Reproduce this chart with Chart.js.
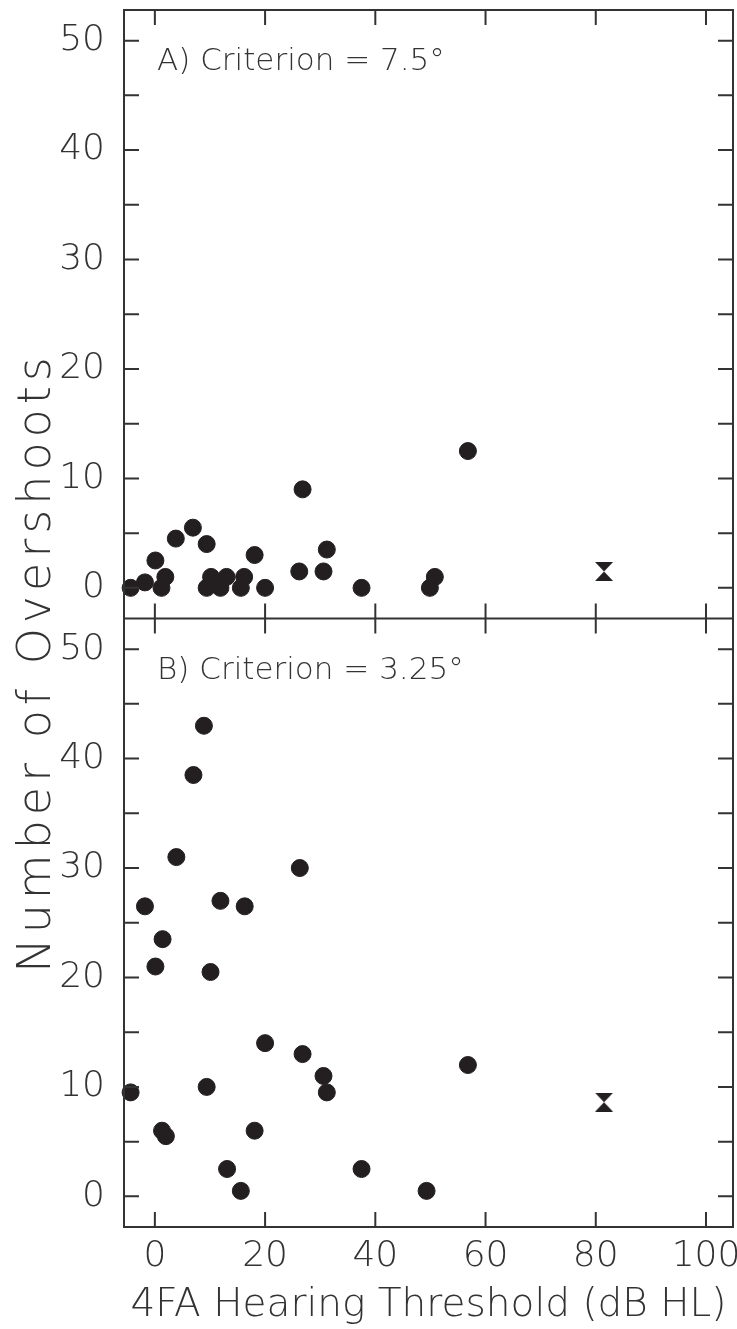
<!DOCTYPE html>
<html>
<head>
<meta charset="utf-8">
<script src="https://cdn.jsdelivr.net/npm/chart.js@4/dist/chart.umd.min.js"></script>
<style>
  html, body { margin: 0; padding: 0; background: #fff; }
  #wrap { width: 737px; height: 1329px; }
</style>
</head>
<body>
<div id="wrap"><canvas id="chart"></canvas></div>
<script>
// tick values
const xTicks = [0, 20, 40, 60, 80, 100];
const yTicks = [0, 5, 10, 15, 20, 25, 30, 35, 40, 45, 50];
const panelLabels = ['A) Criterion = 7.5°', 'B) Criterion = 3.25°'];
const yTitle = 'Number of Overshoots';
const xTitle = '4FA Hearing Threshold (dB HL)';

// panel A: criterion 7.5 deg
const thresholdA = [-4.4, -1.8, 0.1, 1.2, 1.9, 3.8, 6.9, 9.4, 9.4, 10.2, 11.9, 13.0, 15.6, 16.2, 18.1, 20.0, 26.2, 26.8, 30.6, 31.2, 37.5, 49.9, 50.8, 56.8];
const overshootsA = [0, 0.5, 2.5, 0, 1, 4.5, 5.5, 4, 0, 1, 0, 1, 0, 1, 3, 0, 1.5, 9, 1.5, 3.5, 0, 0, 1, 12.5];

// panel B: criterion 3.25 deg
const thresholdB = [-4.4, -1.8, 0.1, 1.4, 1.3, 2.0, 3.9, 7.0, 8.9, 9.4, 10.1, 11.9, 13.1, 15.6, 16.3, 18.1, 20.0, 26.3, 26.8, 30.6, 31.2, 37.5, 49.3, 56.8];
const overshootsB = [9.5, 26.5, 21, 23.5, 6, 5.5, 31, 38.5, 43, 10, 20.5, 27, 2.5, 0.5, 26.5, 6, 14, 30, 13, 11, 9.5, 2.5, 0.5, 12];

// group markers
const meanX = 81.5;
const meanA = 1.5;
const meanB = 8.6;

const ink = '#231f20';
const textColor = '#333';
const family = "'DejaVu Sans', sans-serif";

const toPoints = (xs, ys) => xs.map((x, i) => ({ x, y: ys[i] }));

// hourglass marker
const hourglass = document.createElement('canvas');
hourglass.width = 20;
hourglass.height = 19;
{
  const c = hourglass.getContext('2d');
  c.fillStyle = ink;
  c.beginPath();
  c.moveTo(1, 0); c.lineTo(19, 0); c.lineTo(10, 9.5);
  c.lineTo(19, 19); c.lineTo(1, 19); c.lineTo(10, 9.5);
  c.closePath();
  c.fill();
}

const tickLen = 15;
const frame = {
  id: 'frame',
  afterDatasetsDraw(chart) {
    const { ctx, chartArea: a, scales } = chart;
    ctx.save();
    ctx.strokeStyle = textColor;
    ctx.lineWidth = 2;
    ctx.strokeRect(a.left, a.top, a.right - a.left, a.bottom - a.top);
    ctx.beginPath();
    ctx.moveTo(a.left, scales.yA.bottom);
    ctx.lineTo(a.right, scales.yA.bottom);
    ctx.stroke();

    ctx.beginPath();
    ['yA', 'yB'].forEach((id) => {
      const s = scales[id];
      yTicks.forEach((v) => {
        const py = s.getPixelForValue(v);
        ctx.moveTo(a.left, py); ctx.lineTo(a.left + tickLen, py);
        ctx.moveTo(a.right, py); ctx.lineTo(a.right - tickLen, py);
      });
      xTicks.forEach((v) => {
        const px = scales.x.getPixelForValue(v);
        ctx.moveTo(px, s.top); ctx.lineTo(px, s.top + tickLen);
        ctx.moveTo(px, s.bottom); ctx.lineTo(px, s.bottom - tickLen);
      });
    });
    ctx.stroke();

    ctx.fillStyle = textColor;
    ctx.textBaseline = 'alphabetic';
    ctx.textAlign = 'left';
    ctx.font = `200 31px ${family}`;
    ['yA', 'yB'].forEach((id, i) => {
      ctx.fillText(panelLabels[i], a.left + 33, scales[id].top + 60);
    });

    // y axis title, centred on the full height
    ctx.font = `200 46px ${family}`;
    ctx.letterSpacing = '5px';
    ctx.textAlign = 'center';
    ctx.translate(50, chart.height / 2);
    ctx.rotate(-Math.PI / 2);
    ctx.fillText(yTitle, 2, 0);
    ctx.restore();
  }
};

const yScale = () => ({
  type: 'linear',
  position: 'left',
  stack: 'panels',
  stackWeight: 1,
  min: -2.8,
  max: 52.8,
  afterBuildTicks: (s) => { s.ticks = yTicks.map((v) => ({ value: v })); },
  afterFit: (s) => { s.width = 124; s.paddingTop = 0; s.paddingBottom = 0; },
  grid: { display: false },
  border: { display: false },
  ticks: {
    autoSkip: false,
    padding: 11,
    color: textColor,
    font: { family, size: 36, weight: '200' },
    callback: (v) => (v % 10 === 0 ? v : '')
  }
});

const dot = { pointRadius: 8.5, pointHoverRadius: 8.5, backgroundColor: ink, borderColor: ink, borderWidth: 1, clip: false };

new Chart(document.getElementById('chart'), {
  type: 'scatter',
  data: {
    datasets: [
      { ...dot, label: 'A', yAxisID: 'yA', data: toPoints(thresholdA, overshootsA) },
      { ...dot, label: 'B', yAxisID: 'yB', data: toPoints(thresholdB, overshootsB) },
      { label: 'A mean', yAxisID: 'yA', data: [{ x: meanX, y: meanA }], pointStyle: hourglass, clip: false },
      { label: 'B mean', yAxisID: 'yB', data: [{ x: meanX, y: meanB }], pointStyle: hourglass, clip: false }
    ]
  },
  options: {
    responsive: true,
    maintainAspectRatio: false,
    animation: false,
    layout: { autoPadding: false, padding: { top: 10, right: 4, left: 0, bottom: 0 } },
    plugins: {
      legend: { display: false },
      tooltip: { enabled: false }
    },
    scales: {
      x: {
        type: 'linear',
        min: -5.6,
        max: 104.9,
        afterBuildTicks: (s) => { s.ticks = xTicks.map((v) => ({ value: v })); },
        afterFit: (s) => { s.height = 102; s.paddingLeft = 0; s.paddingRight = 0; },
        grid: { display: false },
        border: { display: false },
        ticks: {
          autoSkip: false,
          maxRotation: 0,
          padding: 0,
          color: textColor,
          font: { family, size: 36, weight: '200' }
        },
        title: {
          display: true,
          text: xTitle,
          color: textColor,
          font: { family, size: 39, weight: '200' },
          padding: { top: 0, bottom: 0 }
        }
      },
      // listed bottom panel first: the last scale of a stack is placed on top
      yB: yScale(),
      yA: yScale()
    }
  },
  plugins: [frame]
});
</script>
</body>
</html>
